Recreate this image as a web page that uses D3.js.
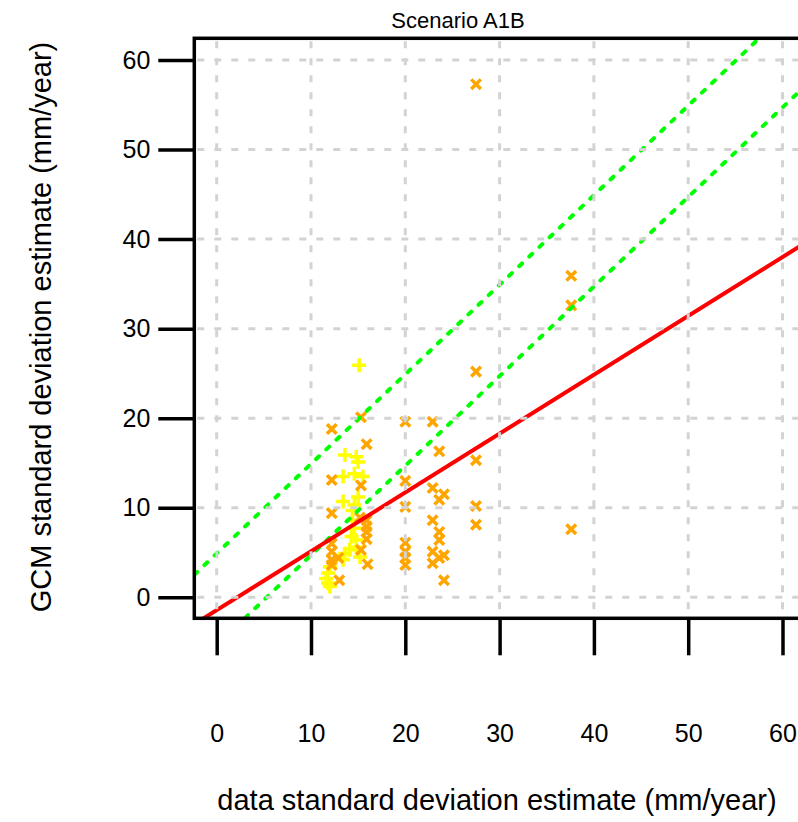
<!DOCTYPE html>
<html><head><meta charset="utf-8">
<script src="https://cdn.jsdelivr.net/npm/d3@7"></script>
<style>body{margin:0;background:#fff}svg{display:block}text{font-family:"Liberation Sans",Arial,sans-serif}</style>
</head><body><svg id="c" width="798" height="822"></svg>
<script>
const title = "Scenario A1B";
const xLabel = "data standard deviation estimate (mm/year)";
const yLabel = "GCM standard deviation estimate (mm/year)";
const xTicks = [0,10,20,30,40,50,60];
const yTicks = [0,10,20,30,40,50,60];

const orangeX = [12.2,12.2,12.2,12.2,12.2,12.2,12.2,12.9,13.0,
  15.3,15.9,15.3,15.2,15.3,15.9,15.9,15.9,15.9,16.0,
  20,20,20,20,20,20,20,
  22.9,22.9,22.9,22.9,22.9,
  23.6,23.6,23.6,23.6,23.6,
  24.1,24.1,24.1,
  27.5,27.5,27.5,27.5,27.5,
  37.6,37.6,37.6];
const orangeY = [18.8,13.1,9.4,6.0,5.1,4.2,3.6,4.4,1.9,
  20.1,17.1,12.5,8.9,5.3,8.6,7.9,7.3,6.5,3.7,
  19.6,13.0,10.1,6.1,5.1,4.4,3.6,
  19.6,12.2,8.6,5.1,3.8,
  16.3,10.9,7.3,6.4,4.4,
  11.5,4.7,1.9,
  57.3,25.2,15.3,10.2,8.1,
  35.9,32.6,7.6];
const yellowX = [15.1,13.6,14.8,15.0,13.4,14.6,15.5,15.0,13.4,14.6,14.4,14.4,14.6,14.3,14.8,14.8,14.1,13.6,13.4,15.2,12.0,11.8,11.6,11.8,12.0];
const yellowY = [25.9,15.9,15.7,15.1,13.5,13.8,13.5,11.2,10.7,10.3,9.7,8.6,7.7,6.8,6.4,5.6,5.3,4.9,4.2,4.5,3.4,2.7,2.1,1.6,1.2];

// reference lines: intercept, slope
const lineIntercepts = [4.9, -5.3, -1.43];
const lineSlopes = [1, 1, 0.657];
const lineColors = ["#00ff00", "#00ff00", "#ff0000"];

const svg = d3.select("#c");
const x = d3.scaleLinear().domain([0,60]).range([216.7, 782.5]);
const y = d3.scaleLinear().domain([0,60]).range([597.3, 60]);
const box = {l:194.3, t:38.3, r:840, b:618.3};

svg.append("clipPath").attr("id","clip").append("rect")
  .attr("x",box.l).attr("y",box.t).attr("width",box.r-box.l).attr("height",box.b-box.t);
const g = svg.append("g").attr("clip-path","url(#clip)");

const xmin = x.invert(box.l), xmax = x.invert(box.r);

// yellow plus
g.selectAll(".yp").data(yellowX.map((v,i)=>[v,yellowY[i]])).join("path")
  .attr("d", d=>{const cx=x(d[0]), cy=y(d[1]), s=7; return `M${cx-s},${cy}H${cx+s}M${cx},${cy-s}V${cy+s}`;})
  .attr("stroke","#ffff00").attr("stroke-width",3.5).attr("fill","none");
// orange x
g.selectAll(".ox").data(orangeX.map((v,i)=>[v,orangeY[i]])).join("path")
  .attr("d", d=>{const cx=x(d[0]), cy=y(d[1]), s=4.8; return `M${cx-s},${cy-s}L${cx+s},${cy+s}M${cx-s},${cy+s}L${cx+s},${cy-s}`;})
  .attr("stroke","#ffa500").attr("stroke-width",3.5).attr("fill","none");

// lines
lineIntercepts.forEach((a,i)=>{
  const b = lineSlopes[i];
  const ln = g.append("line")
    .attr("x1", x(xmin)).attr("y1", y(a+b*xmin))
    .attr("x2", x(xmax)).attr("y2", y(a+b*xmax))
    .attr("stroke", lineColors[i]);
  if (i<2) ln.attr("stroke-width",4).attr("stroke-dasharray","4,10").attr("stroke-linecap","round");
  else ln.attr("stroke-width",4);
});

// grid
g.selectAll(".gv").data(xTicks).join("line")
  .attr("x1",d=>x(d)).attr("x2",d=>x(d)).attr("y1",box.t).attr("y2",box.b)
  .attr("stroke","#d3d3d3").attr("stroke-width",3).attr("stroke-dasharray","7,10").attr("stroke-dashoffset",-3);
g.selectAll(".gh").data(yTicks).join("line")
  .attr("y1",d=>y(d)).attr("y2",d=>y(d)).attr("x1",box.l).attr("x2",box.r)
  .attr("stroke","#d3d3d3").attr("stroke-width",3).attr("stroke-dasharray","7,10").attr("stroke-dashoffset",-3);

// box
svg.append("rect").attr("x",box.l).attr("y",box.t).attr("width",box.r-box.l).attr("height",box.b-box.t)
  .attr("fill","none").attr("stroke","#000").attr("stroke-width",3.5);

// y axis
const ya = svg.append("g").attr("transform",`translate(${box.l},0)`)
  .call(d3.axisLeft(y).tickValues(yTicks).tickSize(36).tickPadding(8).tickFormat(d3.format("d")));
ya.select(".domain").remove();
ya.selectAll(".tick line").attr("stroke","#000").attr("stroke-width",3.5);
ya.selectAll(".tick text").attr("font-size",25).attr("fill","#000").attr("font-family","Liberation Sans, Arial, sans-serif");

// x axis
const xa = svg.append("g").attr("transform",`translate(0,${box.b})`)
  .call(d3.axisBottom(x).tickValues(xTicks).tickSize(37).tickPadding(0).tickFormat(d3.format("d")));
xa.select(".domain").remove();
xa.selectAll(".tick line").attr("stroke","#000").attr("stroke-width",3.5);
xa.selectAll(".tick text").attr("font-size",25).attr("fill","#000").attr("y",117).attr("dy","0")
  .attr("font-family","Liberation Sans, Arial, sans-serif").attr("dominant-baseline","middle");

// titles
svg.append("text").attr("x",458).attr("y",28).attr("text-anchor","middle").attr("font-size",22).text(title);
svg.append("text").attr("x",497).attr("y",810).attr("text-anchor","middle").attr("font-size",29).text(xLabel);
svg.append("text").attr("transform","translate(51,327) rotate(-90)").attr("text-anchor","middle").attr("font-size",29).text(yLabel);
</script></body></html>
